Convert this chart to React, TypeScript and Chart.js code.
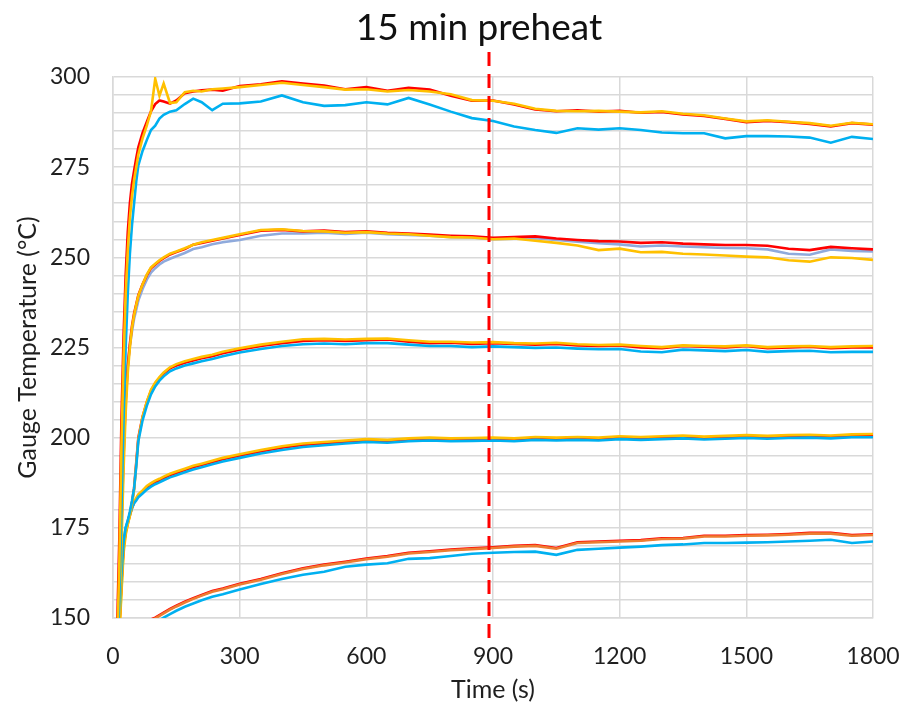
import React, { useEffect, useRef } from "react";
import { Chart, registerables } from "chart.js";

Chart.register(...registerables);

const TITLE = "15 min preheat";
const X_TITLE = "Time (s)";
const Y_TITLE = "Gauge Temperature (°C)";
const PREHEAT_S = 900;

const TIME_S = [10, 15, 20, 25, 30, 35, 40, 45, 50, 55, 60, 70, 80, 90, 100, 110, 120, 135, 150, 170, 190, 210, 235, 260,
  300, 350, 400, 450, 500, 550, 600, 650, 700, 750, 800, 850, 900, 950, 1000, 1050, 1100, 1150, 1200, 1250, 1300, 1350,
  1400, 1450, 1500, 1550, 1600, 1650, 1700, 1750, 1800];

const G300_RED = [148, 172, 205, 228, 245, 257, 265, 270.5, 274, 277.5, 280.5, 284.5, 287.5, 290.5, 292.5, 293.5, 293.2, 292.6, 293.5, 295.5, 296, 296.3, 296.5, 296.2,
  297.5, 298, 298.8, 298.2, 297.6, 296.6, 297.2, 296.2, 297, 296.5, 294.8, 293.4, 293.5, 292.4, 291, 290.5, 290.8, 290.4, 290.6, 290.1, 290.3, 289.6, 289.2, 288.4, 287.5, 287.8, 287.5, 287, 286.3, 287.2, 286.8];
const G300_YELLOW = [143, 165, 198, 222, 240, 252, 261, 267, 271.5, 275, 278.5, 283, 286.5, 290.5, 299.5, 294.8, 298.2, 292.8, 293, 295.8, 296.2, 296, 296.6, 296.8,
  297.2, 297.8, 298.4, 297.8, 297.2, 296.5, 296.6, 296, 296.4, 296, 295.2, 293.6, 293.4, 292.6, 291.2, 290.6, 290.5, 290.6, 290.4, 290.2, 290.5, 289.8, 289.4, 288.5, 287.7, 288, 287.6, 287.2, 286.5, 287.3, 286.9];
const G300_BLUE = [138, 155, 180, 205, 225, 240, 251, 259, 265, 271, 275.5, 279.5, 282.5, 285.3, 286.5, 288.5, 289.5, 290.4, 290.8, 292.5, 294, 293, 290.8, 292.6,
  292.7, 293.2, 294.9, 293, 292, 292.2, 293, 292.4, 294.2, 292.4, 290.4, 288.6, 287.8, 286.3, 285.3, 284.5, 285.8, 285.4, 285.8, 285.3, 284.6, 284.4, 284.4, 283, 283.6, 283.6, 283.5, 283.2, 281.8, 283.4, 282.8];

const G250_RED = [140, 152, 175, 195, 210, 220, 226, 231, 234.5, 237, 239.5, 242.5, 245, 247, 248, 249, 249.8, 250.8, 251.5, 252.3, 253.5, 254, 254.6, 255.2,
  256.2, 257.4, 257.6, 257.2, 257.4, 257, 257.2, 256.8, 256.6, 256.3, 256, 255.8, 255.4, 255.6, 255.8, 255.2, 254.8, 254.5, 254.4, 254, 254.2, 253.8, 253.6, 253.4, 253.4, 253.2, 252.4, 252, 252.9, 252.5, 252.2];
const G250_YELLOW = [135, 148, 170, 191, 207, 218, 225, 230.5, 234, 236.8, 239.3, 242.5, 245.2, 247.2, 248.2, 249.2, 250, 251, 251.6, 252.5, 253.5, 254.2, 254.8, 255.4,
  256.4, 257.6, 257.8, 257.3, 257.2, 256.8, 257, 256.6, 256.4, 256, 255.6, 255.5, 255, 255.2, 254.6, 254, 253.3, 252, 252.4, 251.4, 251.5, 251, 250.8, 250.5, 250.2, 250, 249.2, 248.8, 250, 249.8, 249.3];
const G250_BLUE = [142, 155, 178, 197, 211, 220, 225.5, 229.5, 233, 235.5, 238, 241.2, 243.8, 245.8, 247, 248, 248.8, 249.6, 250.3, 251.2, 252.3, 252.8, 253.6, 254.2,
  254.8, 256, 256.6, 256.6, 256.8, 256.5, 256.8, 256.4, 256.2, 256, 255.6, 255.5, 255, 255.2, 255.3, 254.8, 254.3, 253.9, 253.6, 253, 253.3, 253, 252.8, 252.6, 252.5, 252.2, 251, 250.7, 252.2, 251.8, 251.6];

const G225_RED = [135, 148, 160, 170, 174, 176.5, 179, 182, 186, 193, 200, 205.8, 209.8, 213, 215, 216.5, 217.8, 219.2, 220, 220.8, 221.4, 222, 222.6, 223.4,
  224.4, 225.4, 226.2, 226.8, 227, 226.8, 227, 227.2, 226.6, 226.2, 226.3, 226, 226.2, 226, 225.8, 226, 225.6, 225.4, 225.6, 225, 224.8, 225.4, 225.2, 225, 225.4, 224.8, 225, 225.2, 224.8, 225, 225];
const G225_YELLOW = [133, 146, 158, 169, 173.5, 176, 178.5, 181.5, 185.5, 192.5, 199.5, 205.8, 210, 213.3, 215.3, 216.8, 218.1, 219.5, 220.4, 221.2, 221.8, 222.4, 223, 223.8,
  224.8, 225.8, 226.6, 227.3, 227.4, 227.2, 227.4, 227.5, 227, 226.6, 226.6, 226.4, 226.5, 226.2, 226.1, 226.3, 225.9, 225.7, 225.8, 225.4, 225.1, 225.6, 225.4, 225.3, 225.6, 225.1, 225.3, 225.4, 225.1, 225.3, 225.4];
const G225_BLUE = [137, 150, 162, 171, 175, 177, 179.5, 182.5, 186, 192, 199, 204.8, 208.8, 212, 214.2, 215.8, 217, 218.4, 219.2, 220, 220.6, 221.2, 221.8, 222.6,
  223.6, 224.6, 225.4, 225.9, 226.1, 225.9, 226.2, 226.2, 225.8, 225.4, 225.4, 225.1, 225.3, 225.1, 224.9, 225, 224.7, 224.5, 224.6, 223.9, 223.7, 224.4, 224.2, 224, 224.3, 223.8, 224, 224.1, 223.7, 223.8, 223.8];

const G200_RED = [135, 148, 160, 170, 174, 176.5, 178.5, 180.5, 182, 183, 184, 185, 186.2, 187, 187.7, 188.2, 188.8, 189.6, 190.2, 191, 191.8, 192.4, 193.2, 194,
  195, 196.2, 197.2, 198, 198.4, 198.8, 199.2, 199, 199.4, 199.6, 199.4, 199.5, 199.6, 199.4, 199.8, 199.6, 199.8, 199.6, 200, 199.8, 200, 200.2, 199.9, 200.1, 200.3, 200.1, 200.3, 200.4, 200.2, 200.5, 200.6];
const G200_YELLOW = [132, 145, 157, 168, 173, 176, 178.3, 180.5, 182.2, 183.3, 184.3, 185.4, 186.6, 187.4, 188.1, 188.6, 189.2, 190, 190.6, 191.4, 192.2, 192.8, 193.6, 194.4,
  195.4, 196.6, 197.6, 198.4, 198.8, 199.2, 199.6, 199.4, 199.8, 200, 199.8, 199.9, 200, 199.8, 200.2, 200, 200.2, 200, 200.4, 200.2, 200.4, 200.6, 200.3, 200.5, 200.7, 200.5, 200.7, 200.8, 200.6, 200.9, 201];
const G200_BLUE = [138, 151, 163, 171.5, 175, 177, 178.8, 180.5, 181.8, 182.6, 183.5, 184.5, 185.6, 186.4, 187.1, 187.6, 188.2, 189, 189.6, 190.4, 191.2, 191.8, 192.6, 193.4,
  194.4, 195.6, 196.6, 197.4, 197.9, 198.4, 198.8, 198.6, 199, 199.2, 199, 199.1, 199.2, 199, 199.4, 199.2, 199.4, 199.2, 199.6, 199.4, 199.6, 199.8, 199.5, 199.7, 199.9, 199.7, 199.9, 200, 199.8, 200.1, 200.1];

const G175_ORANGE = [null, null, null, null, null, null, null, null, null, null, null, null, 148.8, 149.4, 149.9, 150.6, 151.3, 152.3, 153.2, 154.3, 155.3, 156.2, 157.3, 158,
  159.3, 160.6, 162.2, 163.6, 164.6, 165.4, 166.3, 167, 167.9, 168.3, 168.8, 169.1, 169.4, 169.8, 170, 169.2, 170.8, 171, 171.2, 171.4, 171.9, 172, 172.6, 172.6, 172.8, 172.9, 173.1, 173.4, 173.4, 172.8, 173];
const G175_RED = [null, null, null, null, null, null, null, null, null, null, null, null, 149, 149.6, 150.1, 150.8, 151.5, 152.5, 153.4, 154.5, 155.5, 156.4, 157.5, 158.2,
  159.5, 160.8, 162.4, 163.8, 164.8, 165.6, 166.5, 167.2, 168.1, 168.5, 169, 169.3, 169.6, 170, 170.2, 169.4, 171, 171.2, 171.4, 171.6, 172.1, 172.2, 172.8, 172.8, 173, 173.1, 173.3, 173.6, 173.6, 173, 173.2];
const G175_BLUE = [null, null, null, null, null, null, null, null, null, null, null, null, 147.4, 148, 148.6, 149.4, 150.1, 151.1, 152, 153.1, 154, 154.9, 155.9, 156.6,
  157.9, 159.4, 160.8, 162, 162.8, 164.2, 164.8, 165.2, 166.4, 166.6, 167.2, 167.8, 168.1, 168.3, 168.4, 167.5, 168.9, 169.2, 169.5, 169.8, 170.2, 170.4, 170.8, 170.8, 170.9, 171, 171.2, 171.4, 171.7, 170.8, 171.2];

const RED = "#FF0000";
const YELLOW = "#FFC000";
const BLUE = "#00B0F0";
const GREY_BLUE = "#8FAADC";
const ORANGE = "#ED7D31";

// first listed is drawn on top
const SERIES: [string, (number | null)[], string][] = [
  ["300 yellow", G300_YELLOW, YELLOW],
  ["300 red", G300_RED, RED],
  ["300 blue", G300_BLUE, BLUE],
  ["250 yellow", G250_YELLOW, YELLOW],
  ["250 red", G250_RED, RED],
  ["250 blue", G250_BLUE, GREY_BLUE],
  ["225 blue", G225_BLUE, BLUE],
  ["225 yellow", G225_YELLOW, YELLOW],
  ["225 red", G225_RED, RED],
  ["200 blue", G200_BLUE, BLUE],
  ["200 yellow", G200_YELLOW, YELLOW],
  ["200 red", G200_RED, RED],
  ["175 orange", G175_ORANGE, ORANGE],
  ["175 red", G175_RED, RED],
  ["175 blue", G175_BLUE, BLUE],
];

const FONT = "Lato";
const TEXT = "#1f1f1f";
const GRID = "#D9D9D9";

const overlayPlugin = {
  id: "preheatOverlay",
  afterDatasetsDraw(chart: any) {
    const { ctx, scales } = chart;
    const px = scales.x.getPixelForValue(PREHEAT_S) - 4;
    ctx.save();
    ctx.strokeStyle = RED;
    ctx.lineWidth = 3;
    ctx.setLineDash([14, 8]);
    ctx.beginPath();
    ctx.moveTo(px, 52);
    ctx.lineTo(px, 642);
    ctx.stroke();
    ctx.setLineDash([]);
    ctx.fillStyle = "#111";
    ctx.font = `37px ${FONT}`;
    ctx.textAlign = "center";
    ctx.textBaseline = "middle";
    ctx.fillText(TITLE, px - 10, 28);
    ctx.restore();
  },
};

export default function App() {
  const ref = useRef<HTMLCanvasElement>(null);
  useEffect(() => {
    if (!ref.current) return;
    const chart = new Chart(ref.current, {
      type: "line",
      data: {
        datasets: SERIES.map(([label, vals, color]) => ({
          label,
          data: TIME_S.map((t, i) => ({ x: t, y: vals[i] })),
          borderColor: color,
          backgroundColor: color,
          borderWidth: 2.6,
          pointRadius: 0,
          tension: 0,
          spanGaps: false,
        })) as any,
      },
      options: {
        animation: false,
        responsive: false,
        layout: { padding: { top: 77, right: 43, left: 0, bottom: 0 } },
        plugins: { legend: { display: false }, title: { display: false }, tooltip: { enabled: false } },
        scales: {
          x: {
            type: "linear",
            min: 0,
            max: 1800,
            afterFit: (s: any) => { s.height = 87; s.paddingLeft = 0; s.paddingRight = 0; },
            ticks: {
              stepSize: 300,
              autoSkip: false,
              maxRotation: 0,
              padding: 25,
              color: TEXT,
              font: { family: FONT, size: 23 },
              callback: (v: any) => String(v),
            },
            grid: { color: GRID, lineWidth: 1.5, drawTicks: false },
            border: { display: true, color: GRID, width: 1.5 },
            title: { display: true, text: X_TITLE, color: TEXT, font: { family: FONT, size: 25 }, padding: { top: 0, bottom: 0 } },
          },
          y: {
            type: "linear",
            min: 150,
            max: 300,
            afterFit: (s: any) => { s.width = 113; s.paddingTop = 0; s.paddingBottom = 0; },
            ticks: {
              stepSize: 5,
              autoSkip: false,
              padding: 23,
              color: TEXT,
              font: { family: FONT, size: 23 },
              callback: (v: any) => (Number(v) % 25 === 0 ? String(v) : ""),
            },
            grid: { color: GRID, lineWidth: 1.5, drawTicks: false },
            border: { display: true, color: GRID, width: 1.5 },
            title: { display: true, text: Y_TITLE, color: TEXT, font: { family: FONT, size: 25 }, padding: { top: 13, bottom: 0 } },
          },
        },
      },
      plugins: [overlayPlugin],
    });
    return () => chart.destroy();
  }, []);
  return (
    <div style={{ position: "absolute", left: 0, top: 0, width: 916, height: 705 }}>
      <canvas ref={ref} width={916} height={705} style={{ display: "block" }} />
    </div>
  );
}
